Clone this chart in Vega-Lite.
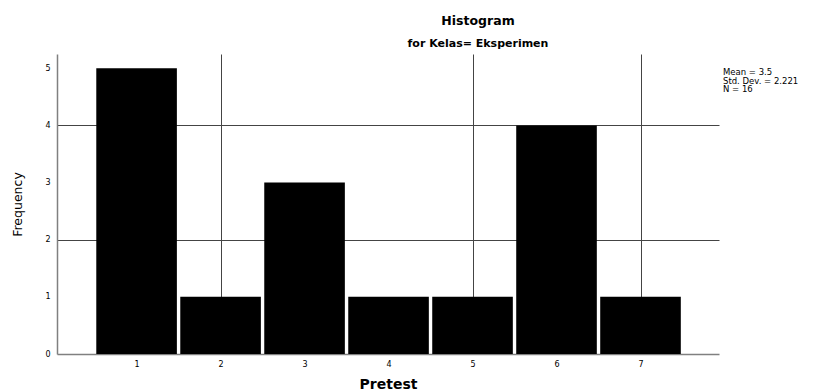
{
  "$schema": "https://vega.github.io/schema/vega-lite/v6.json",
  "width": 662,
  "height": 300,
  "autosize": {"type": "none"},
  "padding": {"left": 57, "top": 54, "right": 104, "bottom": 38},
  "background": "white",
  "config": {
    "font": "DejaVu Sans",
    "view": {"stroke": null}
  },
  "title": {
    "text": "Histogram",
    "subtitle": "for Kelas= Eksperimen",
    "anchor": "middle",
    "dx": 90,
    "fontSize": 12.5,
    "fontWeight": "bold",
    "subtitleFontSize": 11,
    "subtitleFontWeight": "bold",
    "subtitleColor": "black",
    "color": "black",
    "subtitlePadding": 11,
    "offset": 5
  },
  "data": {
    "values": [
      {"Pretest": 1, "Frequency": 5},
      {"Pretest": 2, "Frequency": 1},
      {"Pretest": 3, "Frequency": 3},
      {"Pretest": 4, "Frequency": 1},
      {"Pretest": 5, "Frequency": 1},
      {"Pretest": 6, "Frequency": 4},
      {"Pretest": 7, "Frequency": 1}
    ]
  },
  "layer": [
    {
      "mark": {"type": "bar", "color": "black", "width": 80.6},
      "encoding": {
        "x": {
          "field": "Pretest",
          "type": "quantitative",
          "scale": {"domain": [0.112, 7.875], "nice": false, "zero": false},
          "axis": {
            "values": [1, 2, 3, 4, 5, 6, 7],
            "format": "d",
            "title": "Pretest",
            "titleFontSize": 14,
            "titleFontWeight": "bold",
            "titleColor": "black",
            "titlePadding": 9,
            "labelFontSize": 8,
            "labelColor": "black",
            "labelPadding": 6,
            "ticks": false,
            "domainColor": "#808080",
            "domainWidth": 1.5,
            "grid": true,
            "gridColor": "#444444",
            "gridWidth": 1,
            "gridOpacity": {"condition": {"test": "datum.value == 2 || datum.value == 5 || datum.value == 7", "value": 1}, "value": 0}
          }
        },
        "y": {
          "field": "Frequency",
          "type": "quantitative",
          "scale": {"domain": [0, 5.25], "nice": false},
          "axis": {
            "values": [0, 1, 2, 3, 4, 5],
            "format": "d",
            "title": "Frequency",
            "titleFontSize": 12.5,
            "titleFontWeight": "normal",
            "titleColor": "black",
            "titlePadding": 20,
            "labelFontSize": 8,
            "labelColor": "black",
            "labelPadding": 7,
            "ticks": false,
            "domainColor": "#808080",
            "domainWidth": 1.5,
            "grid": true,
            "gridColor": "#444444",
            "gridWidth": 1,
            "gridOpacity": {"condition": {"test": "datum.value == 2 || datum.value == 4", "value": 1}, "value": 0}
          }
        }
      }
    },
    {
      "data": {"values": [{"label": "Mean = 3.5\nStd. Dev. = 2.221\nN = 16"}]},
      "mark": {"type": "text", "align": "left", "baseline": "top", "fontSize": 8.5, "lineHeight": 8.5, "lineBreak": "\n", "dx": 9, "color": "black"},
      "encoding": {
        "text": {"field": "label"},
        "x": {"datum": 7.875},
        "y": {"datum": 5.0}
      }
    }
  ]
}
